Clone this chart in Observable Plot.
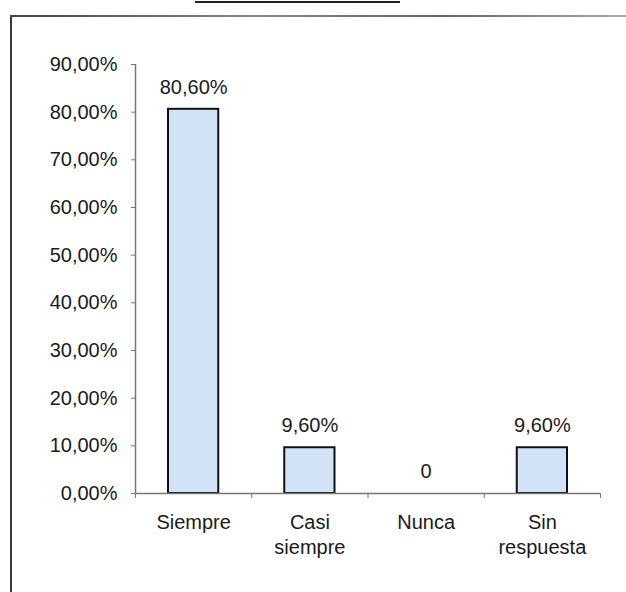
<!DOCTYPE html>
<html>
<head>
<meta charset="utf-8">
<script src="https://cdn.jsdelivr.net/npm/d3@7"></script>
<script src="https://cdn.jsdelivr.net/npm/@observablehq/plot@0.6"></script>
<style>
  html, body { margin: 0; padding: 0; background: #fff; }
  #wrap { position: relative; width: 626px; height: 592px; overflow: hidden; background: #fff; }
  #chart { position: absolute; left: 0; top: 0; }
  .frame-left { position: absolute; left: 10px; top: 15px; width: 2px; height: 580px; background: #3a3a3a; }
  .frame-top { position: absolute; left: 10px; top: 15px; width: 616px; height: 2px; background: linear-gradient(to right, #444, #888 40%, #666 70%, #aaa); }
  .title-line { position: absolute; left: 195px; top: 1px; width: 205px; height: 2px; background: #222; }
</style>
</head>
<body>
<div id="wrap">
  <div id="chart"></div>
  <div class="frame-left"></div>
  <div class="frame-top"></div>
  <div class="title-line"></div>
</div>
<script>
const categories = ["Siempre", "Casi\nsiempre", "Nunca", "Sin\nrespuesta"];
const values = [0.806, 0.096, 0, 0.096];
const yTicks = [0, 0.1, 0.2, 0.3, 0.4, 0.5, 0.6, 0.7, 0.8, 0.9];

const locale = d3.formatLocale({decimal: ",", thousands: ".", grouping: [3], currency: ["", "€"]});
const pct = locale.format(".2%");

const data = categories.map((c, i) => ({cat: c, i, value: values[i]}));

const chart = Plot.plot({
  width: 626,
  height: 592,
  marginLeft: 135,
  marginRight: 26,
  marginTop: 64,
  marginBottom: 99,
  style: {fontFamily: "'Liberation Sans', Arial, sans-serif", fontSize: "20px", color: "#1a1a1a", background: "white"},
  x: {domain: [0, categories.length]},
  y: {domain: [0, 0.9]},
  marks: [
    Plot.rectY(data.filter(d => d.value > 0), {
      x: "i", interval: 1, y: "value",
      fill: "#d2e2f7", stroke: "#111", strokeWidth: 2,
      insetLeft: 33, insetRight: 33
    }),
    Plot.ruleX([0], {stroke: "#777", strokeWidth: 1.5}),
    Plot.ruleY([0], {stroke: "#777", strokeWidth: 1.5}),
    Plot.axisY({ticks: yTicks, tickFormat: pct, tickSize: 4, tickPadding: 14, label: null, stroke: "#777"}),
    Plot.axisX({ticks: d3.range(categories.length + 1), tickFormat: () => "", tickSize: 5, label: null, stroke: "#777"}),
    Plot.axisX({ticks: data.map(d => d.i + 0.5), tickFormat: v => categories[Math.floor(v)], tickSize: 0, tickPadding: 18, label: null, lineHeight: 1.25}),
    Plot.text(data, {
      x: d => d.i + 0.5, y: "value",
      text: d => d.value === 0 ? "0" : pct(d.value),
      dy: -22
    })
  ]
});
document.getElementById("chart").appendChild(chart);
</script>
</body>
</html>
